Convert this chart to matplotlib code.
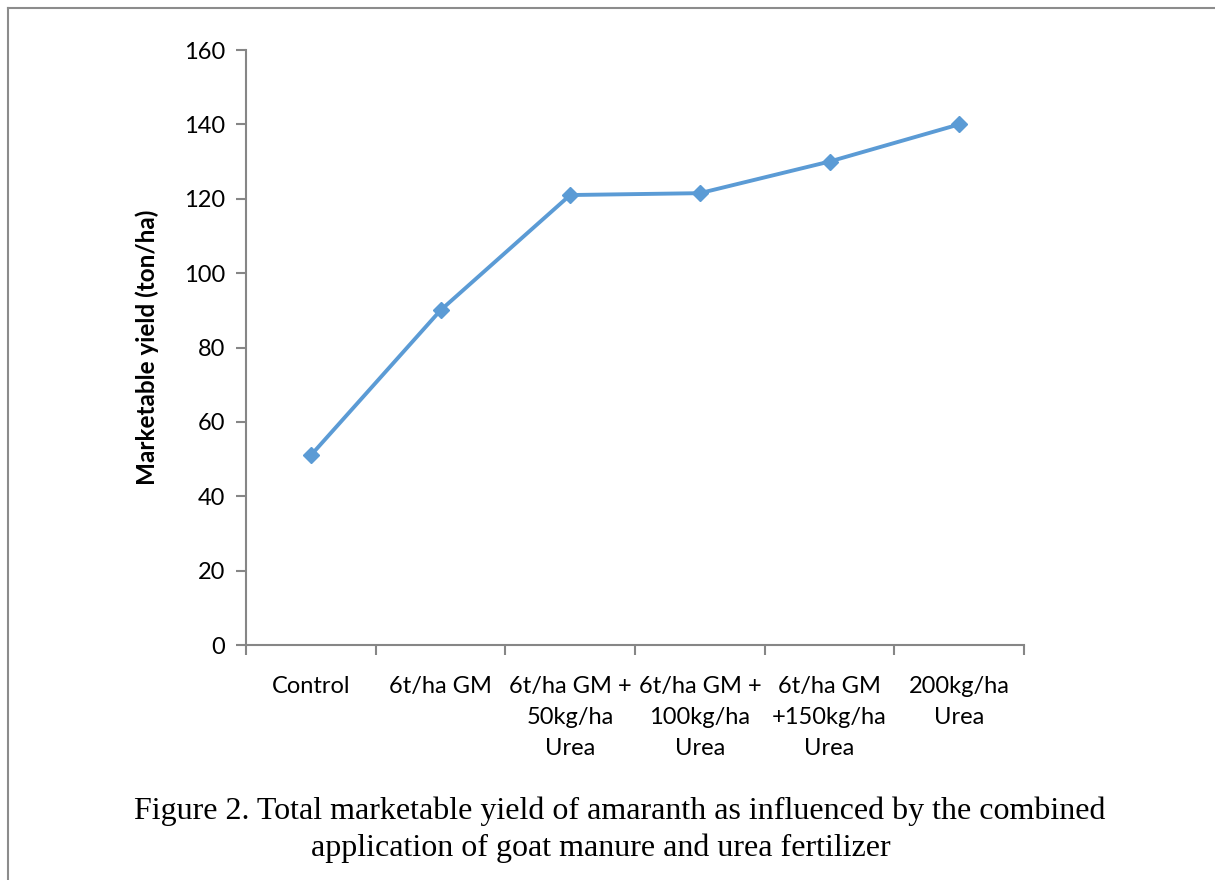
import numpy as np
import matplotlib.pyplot as plt
from matplotlib.lines import Line2D
from matplotlib.ticker import FixedLocator, NullFormatter

# treatments and marketable yield (ton/ha)
treatments = ['Control', '6t/ha GM', '6t/ha GM +\n50kg/ha\nUrea', '6t/ha GM +\n100kg/ha\nUrea',
              '6t/ha GM\n+150kg/ha\nUrea', '200kg/ha\nUrea']
yield_tha = [51, 90, 121, 121.5, 130, 140]
y_ticks = [0, 20, 40, 60, 80, 100, 120, 140, 160]

W, H = 1215, 880
fig = plt.figure(figsize=(W / 100, H / 100), dpi=100)
ax = fig.add_axes([246 / W, 1 - 645 / H, (1024 - 246) / W, (645 - 50) / H])

x = np.arange(len(treatments))
ax.plot(x, yield_tha, color='#5B9BD5', lw=2.8, marker='D', ms=8, zorder=3)

axis_col = '#868686'
ax.set_xlim(-0.5, len(treatments) - 0.5)
ax.set_ylim(0, 160)
ax.set_yticks(y_ticks)
ax.set_xticks(x)
ax.set_xticklabels(treatments, fontsize=17, family='Lato', linespacing=1.6, va='top')
ax.tick_params(axis='x', which='major', length=0, pad=22)
ax.xaxis.set_minor_locator(FixedLocator(np.arange(-0.5, len(treatments), 1)))
ax.xaxis.set_minor_formatter(NullFormatter())
ax.tick_params(axis='x', which='minor', length=7, width=1.5, color=axis_col)
ax.tick_params(axis='y', length=7, width=1.5, color=axis_col, labelsize=17, pad=8)
for lab in ax.get_yticklabels():
    lab.set_family('Lato')

for s in ['top', 'right']:
    ax.spines[s].set_visible(False)
for s in ['left', 'bottom']:
    ax.spines[s].set_color(axis_col)
    ax.spines[s].set_linewidth(1.5)

ax.set_ylabel('Marketable yield (ton/ha)', fontsize=17.5, fontweight='bold', family='Lato', labelpad=18)

# caption
fig.text(620 / W, 1 - 811 / H, 'Figure 2. Total marketable yield of amaranth as influenced by the combined',
         ha='center', va='center', fontsize=23, family='Liberation Serif')
fig.text(601 / W, 1 - 848 / H, 'application of goat manure and urea fertilizer',
         ha='center', va='center', fontsize=23, family='Liberation Serif')

# page border lines
fig.add_artist(Line2D([8 / W, 1], [1 - 8 / H, 1 - 8 / H], color='#8c8c8c', lw=1.5))
fig.add_artist(Line2D([8 / W, 8 / W], [0, 1 - 8 / H], color='#8c8c8c', lw=1.5))

fig.savefig('out.png', dpi=100)
